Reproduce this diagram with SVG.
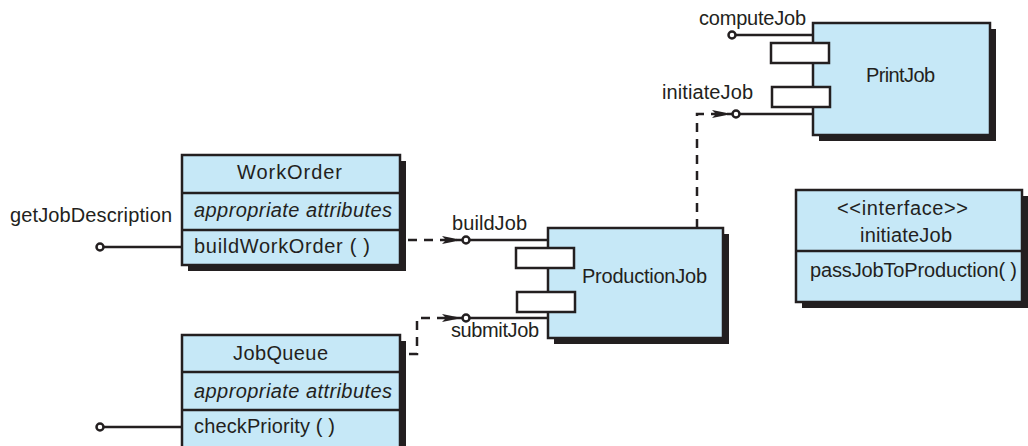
<svg xmlns="http://www.w3.org/2000/svg" width="1028" height="446" viewBox="0 0 1028 446">
<style>
text{font-family:"Liberation Sans",Arial,sans-serif;font-size:20px;fill:#231f20}
.it{font-style:italic}
.box{fill:#c6e8f7;stroke:#231f20;stroke-width:2.5}
.sh{fill:#231f20}
.port{fill:#fff;stroke:#231f20;stroke-width:2.5}
.ln{stroke:#231f20;stroke-width:2.5;fill:none}
.dash{stroke:#231f20;stroke-width:2.5;fill:none;stroke-dasharray:9 7}
.pin{fill:#fff;stroke:#231f20;stroke-width:2.5}
</style>
<defs>
<marker id="ah" viewBox="0 0 20 8" refX="20" refY="4" markerWidth="20" markerHeight="8" markerUnits="userSpaceOnUse" orient="auto">
<path d="M0,0 L20,4 L0,8 L4,4 Z" fill="#231f20"/>
</marker>
</defs>

<g id="connectors">
<path class="dash" d="M408,240 H462" marker-end="url(#ah)"/>
<path class="dash" d="M409,354 H417 V318 H462" marker-end="url(#ah)"/>
<path class="dash" d="M697,228 V114 H732" marker-end="url(#ah)"/>
</g>

<g id="WorkOrder">
<rect class="sh" x="188" y="161" width="218" height="110"/>
<rect class="box" x="182" y="155" width="218" height="110"/>
<line class="ln" x1="182" y1="193" x2="400" y2="193"/>
<line class="ln" x1="182" y1="230" x2="400" y2="230"/>
<text x="237" y="179" textLength="105">WorkOrder</text>
<text class="it" x="194" y="217" textLength="198">appropriate attributes</text>
<text x="194" y="253" textLength="176">buildWorkOrder ( )</text>
<line class="ln" x1="104" y1="247" x2="182" y2="247"/>
<circle class="pin" cx="100" cy="247" r="3.5"/>
<text x="10" y="222" textLength="162">getJobDescription</text>
</g>

<g id="JobQueue">
<rect class="sh" x="188" y="341" width="218" height="120"/>
<rect class="box" x="182" y="335" width="218" height="120"/>
<line class="ln" x1="182" y1="372" x2="400" y2="372"/>
<line class="ln" x1="182" y1="410" x2="400" y2="410"/>
<text x="233" y="360" textLength="95">JobQueue</text>
<text class="it" x="194" y="398" textLength="198">appropriate attributes</text>
<text x="194" y="433" textLength="141">checkPriority ( )</text>
<line class="ln" x1="104" y1="427" x2="182" y2="427"/>
<circle class="pin" cx="100" cy="427" r="3.5"/>
</g>

<g id="ProductionJob">
<rect class="sh" x="554" y="234" width="175" height="110"/>
<rect class="box" x="548" y="228" width="175" height="110"/>
<line class="ln" x1="470" y1="240" x2="548" y2="240"/>
<line class="ln" x1="470" y1="318" x2="548" y2="318"/>
<circle class="pin" cx="466" cy="240" r="3.5"/>
<circle class="pin" cx="466" cy="318" r="3.5"/>
<rect class="port" x="516" y="248" width="58" height="20"/>
<rect class="port" x="517" y="292" width="58" height="20"/>
<text x="582" y="283" textLength="125">ProductionJob</text>
<text x="452" y="230" textLength="75">buildJob</text>
<text x="451" y="337" textLength="88">submitJob</text>
</g>

<g id="PrintJob">
<rect class="sh" x="819" y="29" width="177" height="112"/>
<rect class="box" x="813" y="23" width="177" height="112"/>
<line class="ln" x1="736" y1="35" x2="813" y2="35"/>
<line class="ln" x1="740" y1="114" x2="813" y2="114"/>
<circle class="pin" cx="732" cy="35" r="3.5"/>
<circle class="pin" cx="736" cy="114" r="3.5"/>
<rect class="port" x="771" y="43" width="58" height="20"/>
<rect class="port" x="772" y="87" width="58" height="20"/>
<text x="866" y="82" textLength="69">PrintJob</text>
<text x="699" y="25" textLength="107">computeJob</text>
<text x="662" y="99" textLength="91">initiateJob</text>
</g>

<g id="InitiateJobInterface">
<rect class="sh" x="802" y="196" width="226" height="112"/>
<rect class="box" x="796" y="190" width="226" height="112"/>
<line class="ln" x1="796" y1="251" x2="1022" y2="251"/>
<text x="837" y="215" textLength="131">&lt;&lt;interface&gt;&gt;</text>
<text x="860" y="242" textLength="92">initiateJob</text>
<text x="810" y="277" textLength="207">passJobToProduction( )</text>
</g>
</svg>
